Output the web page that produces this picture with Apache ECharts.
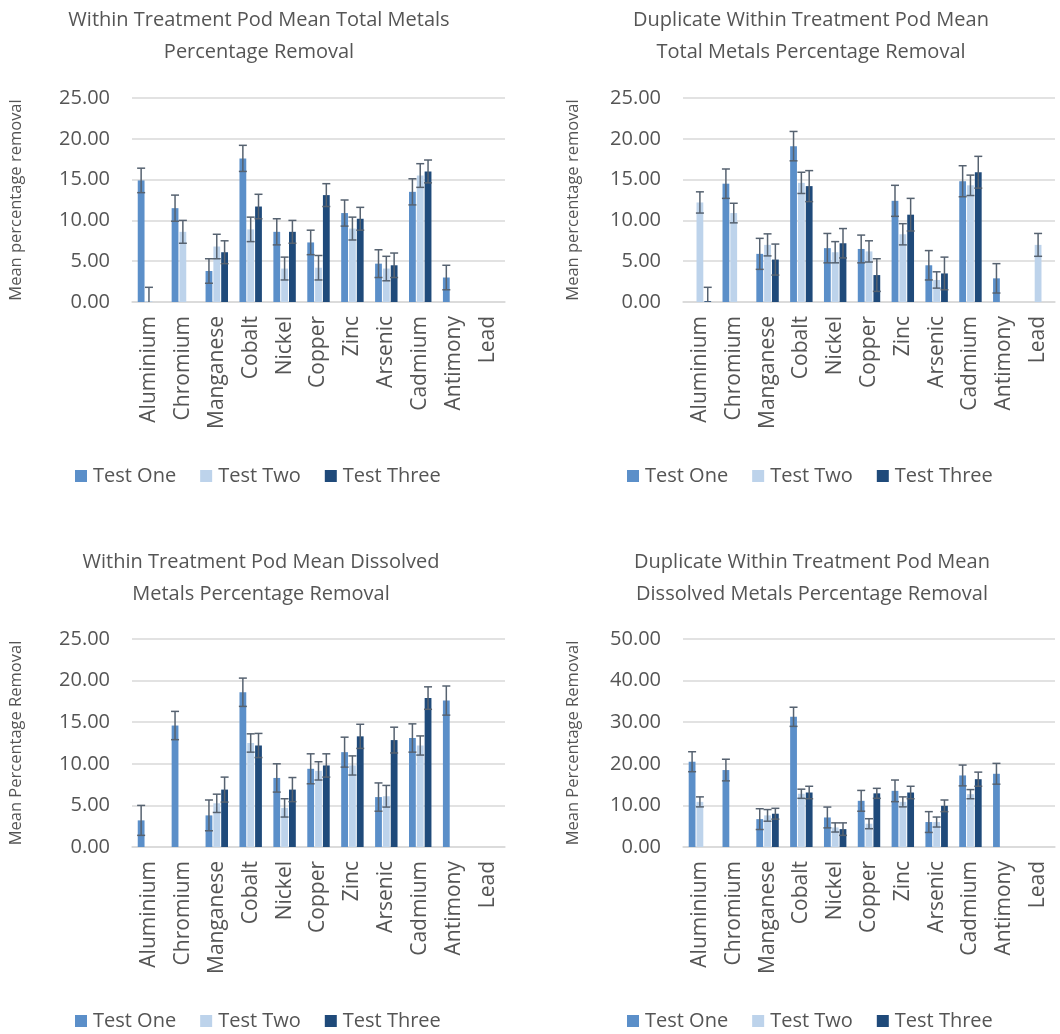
<!DOCTYPE html>
<html>
<head>
<meta charset="utf-8">
<script src="https://cdn.jsdelivr.net/npm/echarts@6/dist/echarts.min.js"></script>
<style>
  html, body { margin: 0; padding: 0; background: #ffffff; }
  #chart { width: 1060px; height: 1034px; }
</style>
</head>
<body>
<div id="chart"></div>
<script>
// Metals measured in each treatment pod run
const categories = ['Aluminium', 'Chromium', 'Manganese', 'Cobalt', 'Nickel', 'Copper',
  'Zinc', 'Arsenic', 'Cadmium', 'Antimony', 'Lead'];
const testNames = ['Test One', 'Test Two', 'Test Three'];

// Total metals – mean % removal and error (±)
const totalOne = [14.9, 11.5, 3.8, 17.6, 8.6, 7.3, 10.9, 4.7, 13.5, 3.0, null];
const totalOneErr = [1.5, 1.6, 1.5, 1.6, 1.6, 1.5, 1.6, 1.7, 1.6, 1.5, null];
const totalTwo = [0.1, 8.6, 6.8, 8.9, 4.1, 4.2, 9.0, 4.1, 15.5, null, null];
const totalTwoErr = [1.7, 1.4, 1.5, 1.5, 1.4, 1.5, 1.4, 1.5, 1.45, null, null];
const totalThree = [null, null, 6.1, 11.7, 8.6, 13.1, 10.2, 4.5, 16.0, null, null];
const totalThreeErr = [null, null, 1.4, 1.5, 1.4, 1.4, 1.4, 1.5, 1.4, null, null];

// Duplicate pod, total metals
const dupTotalOne = [null, 14.5, 5.9, 19.1, 6.6, 6.5, 12.4, 4.5, 14.8, 2.9, null];
const dupTotalOneErr = [null, 1.8, 1.9, 1.8, 1.8, 1.7, 1.9, 1.8, 1.9, 1.8, null];
const dupTotalTwo = [12.2, 10.9, 7.0, 14.6, 6.1, 6.2, 8.3, 2.7, 14.3, null, 7.0];
const dupTotalTwoErr = [1.3, 1.2, 1.35, 1.3, 1.3, 1.3, 1.3, 1.0, 1.25, null, 1.4];
const dupTotalThree = [0.1, null, 5.2, 14.2, 7.2, 3.3, 10.7, 3.5, 15.9, null, null];
const dupTotalThreeErr = [1.7, null, 1.9, 1.9, 1.8, 2.0, 2.0, 2.0, 1.95, null, null];

// Dissolved metals
const dissOne = [3.2, 14.6, 3.8, 18.6, 8.3, 9.4, 11.4, 6.0, 13.1, 17.6, null];
const dissOneErr = [1.8, 1.7, 1.85, 1.7, 1.7, 1.8, 1.8, 1.7, 1.7, 1.75, null];
const dissTwo = [null, null, 5.25, 12.5, 4.7, 9.15, 9.8, 6.1, 12.2, null, null];
const dissTwoErr = [null, null, 1.1, 1.1, 1.1, 1.1, 1.15, 1.3, 1.15, null, null];
const dissThree = [null, null, 6.9, 12.2, 6.9, 9.8, 13.3, 12.85, 17.9, null, null];
const dissThreeErr = [null, null, 1.5, 1.45, 1.45, 1.4, 1.45, 1.55, 1.35, null, null];

// Duplicate pod, dissolved metals
const dupDissOne = [20.5, 18.5, 6.7, 31.3, 7.1, 11.1, 13.5, 6.0, 17.2, 17.6, null];
const dupDissOneErr = [2.4, 2.6, 2.5, 2.3, 2.5, 2.5, 2.6, 2.5, 2.5, 2.5, null];
const dupDissTwo = [10.85, null, 7.6, 12.8, 4.7, 5.6, 10.85, 6.0, 12.7, null, null];
const dupDissTwoErr = [1.2, null, 1.4, 1.1, 1.1, 1.2, 1.2, 1.2, 1.1, null, null];
const dupDissThree = [null, null, 8.0, 13.1, 4.3, 12.9, 13.1, 9.9, 16.3, null, null];
const dupDissThreeErr = [null, null, 1.3, 1.5, 1.5, 1.2, 1.5, 1.4, 1.7, null, null];

// Value axis settings per panel
const axisMax = [25, 25, 25, 50];
const axisStep = [5, 5, 5, 10];

const FONT = 'Open Sans';
const TEXT = '#555555';
const GRID_LINE = '#d9d9d9';
const COLORS = ['#5b8fc9', '#bdd3eb', '#1f4a7a'];
const BAR_W = 6.8;
const BAR_GAP = 0.15;
const STEP = BAR_W * (1 + BAR_GAP);

const panels = [
  { title: 'Within Treatment Pod Mean Total Metals\nPercentage Removal', yName: 'Mean percentage removal',
    values: [totalOne, totalTwo, totalThree], errs: [totalOneErr, totalTwoErr, totalThreeErr],
    grid: { left: 132, top: 98, width: 373, height: 204 }, titleX: 259, titleY: 4, legendX: 75, legendY: 466, nameGap: 107 },
  { title: 'Duplicate Within Treatment Pod Mean\nTotal Metals Percentage Removal', yName: 'Mean percentage removal',
    values: [dupTotalOne, dupTotalTwo, dupTotalThree], errs: [dupTotalOneErr, dupTotalTwoErr, dupTotalThreeErr],
    grid: { left: 683, top: 98, width: 372, height: 204 }, titleX: 811, titleY: 4, legendX: 627, legendY: 466, nameGap: 101 },
  { title: 'Within Treatment Pod Mean Dissolved\nMetals Percentage Removal', yName: 'Mean Percentage Removal',
    values: [dissOne, dissTwo, dissThree], errs: [dissOneErr, dissTwoErr, dissThreeErr],
    grid: { left: 132, top: 639, width: 373, height: 208 }, titleX: 261, titleY: 546, legendX: 75, legendY: 1011, nameGap: 107 },
  { title: 'Duplicate Within Treatment Pod Mean\nDissolved Metals Percentage Removal', yName: 'Mean Percentage Removal',
    values: [dupDissOne, dupDissTwo, dupDissThree], errs: [dupDissOneErr, dupDissTwoErr, dupDissThreeErr],
    grid: { left: 683, top: 639, width: 372, height: 208 }, titleX: 812, titleY: 546, legendX: 627, legendY: 1011, nameGap: 101 }
];

// Error bars with caps at both ends, centred on each bar of the group
function renderErrorBar(params, api) {
  const cat = api.value(0), mean = api.value(1), err = api.value(2), k = api.value(3);
  const hi = api.coord([cat, mean + err]);
  const lo = api.coord([cat, mean - err]);
  const x = hi[0] + (k - 1) * STEP;
  const cap = 4;
  const style = { stroke: '#566270', lineWidth: 1.5, fill: null };
  return {
    type: 'group',
    children: [
      { type: 'line', shape: { x1: x, y1: hi[1], x2: x, y2: lo[1] }, style: style },
      { type: 'line', shape: { x1: x - cap, y1: hi[1], x2: x + cap, y2: hi[1] }, style: style },
      { type: 'line', shape: { x1: x - cap, y1: lo[1], x2: x + cap, y2: lo[1] }, style: style }
    ]
  };
}

const option = {
  backgroundColor: '#ffffff',
  animation: false,
  textStyle: { fontFamily: FONT },
  title: [], legend: [], grid: [], xAxis: [], yAxis: [], series: []
};

panels.forEach((p, i) => {
  option.title.push({
    text: p.title, left: p.titleX, top: p.titleY, textAlign: 'center', padding: 0,
    textStyle: { fontFamily: FONT, fontSize: 20, fontWeight: 'normal', color: TEXT, lineHeight: 32 }
  });
  option.legend.push({
    data: testNames, left: p.legendX, top: p.legendY, orient: 'horizontal',
    icon: 'rect', itemWidth: 12, itemHeight: 12, itemGap: 24, padding: 0,
    textStyle: { fontFamily: FONT, fontSize: 20, color: TEXT, padding: [0, 0, 0, 1] },
    selectedMode: false
  });
  option.grid.push(Object.assign({ containLabel: false }, p.grid));
  option.xAxis.push({
    type: 'category', gridIndex: i, data: categories,
    axisLine: { show: true, lineStyle: { color: GRID_LINE, width: 1.5 } },
    axisTick: { show: false },
    axisLabel: { interval: 0, rotate: 90, margin: 14, fontFamily: FONT, fontSize: 21, color: TEXT }
  });
  option.yAxis.push({
    type: 'value', gridIndex: i, min: 0, max: axisMax[i], interval: axisStep[i],
    name: p.yName, nameLocation: 'middle', nameRotate: 90, nameGap: p.nameGap,
    nameTextStyle: { fontFamily: FONT, fontSize: 16.5, color: TEXT },
    axisLine: { show: false }, axisTick: { show: false },
    splitLine: { lineStyle: { color: GRID_LINE, width: 1.5 } },
    axisLabel: { margin: 22, fontFamily: FONT, fontSize: 20, color: TEXT,
      formatter: v => v.toFixed(2) }
  });
  const errData = [];
  testNames.forEach((name, k) => {
    option.series.push({
      type: 'bar', name: name, xAxisIndex: i, yAxisIndex: i,
      data: p.values[k], barWidth: BAR_W, barGap: (BAR_GAP * 100) + '%',
      itemStyle: { color: COLORS[k] }
    });
    p.values[k].forEach((v, c) => {
      if (v !== null && p.errs[k][c] !== null) errData.push([c, v, p.errs[k][c], k]);
    });
  });
  option.series.push({
    type: 'custom', name: 'error', xAxisIndex: i, yAxisIndex: i, clip: true, z: 5,
    renderItem: renderErrorBar, data: errData, encode: { x: 0, y: 1 }
  });
});

const chart = echarts.init(document.getElementById('chart'), null, { renderer: 'canvas' });
chart.setOption(option);
</script>
</body>
</html>
